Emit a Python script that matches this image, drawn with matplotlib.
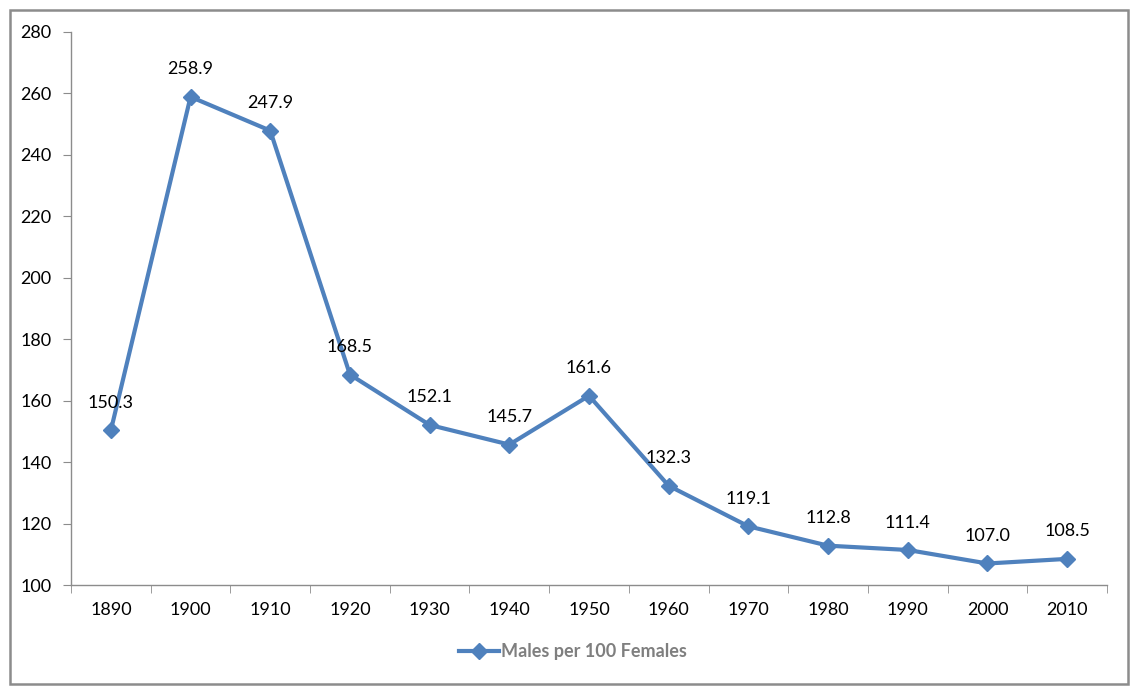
import matplotlib
matplotlib.use('Agg')
from matplotlib import pyplot as plt
from matplotlib.patches import Rectangle

years = ['1890', '1900', '1910', '1920', '1930', '1940', '1950',
         '1960', '1970', '1980', '1990', '2000', '2010']
ratio = [150.3, 258.9, 247.9, 168.5, 152.1, 145.7, 161.6,
         132.3, 119.1, 112.8, 111.4, 107.0, 108.5]
series_name = 'Males per 100 Females'

plt.rcParams['font.family'] = ['Lato', 'DejaVu Sans']

fig = plt.figure(figsize=(11.35, 6.91), dpi=100)
ax = fig.add_axes([71 / 1135, 106 / 691, 1036 / 1135, 553 / 691])

# outer chart-area border
fig.patches.append(Rectangle((10 / 1135, 7 / 691), 1118 / 1135, 674 / 691,
                             transform=fig.transFigure, fill=False,
                             edgecolor='#8c8c8c', linewidth=1.8))

x = list(range(len(years)))
blue = '#4F81BD'
ax.plot(x, ratio, color=blue, linewidth=3, marker='D', markersize=8,
        label=series_name)
for xi, v in zip(x, ratio):
    ax.annotate(f'{v:.1f}', (xi, v), xytext=(0, 14), textcoords='offset points',
                ha='center', va='bottom', fontsize=13, color='black')

ax.set_xlim(-0.5, len(years) - 0.5)
ax.set_ylim(100, 280)
ax.set_yticks(range(100, 281, 20))
ax.set_xticks(x)
ax.set_xticklabels(years)
ax.set_xticks([i - 0.5 for i in range(len(years) + 1)], minor=True)
ax.tick_params(axis='x', which='major', length=0, pad=12, labelsize=13)
ax.tick_params(axis='x', which='minor', length=6, color='#8c8c8c', direction='out')
ax.tick_params(axis='y', length=6, color='#8c8c8c', labelsize=13, pad=8)

for s in ['top', 'right']:
    ax.spines[s].set_visible(False)
for s in ['left', 'bottom']:
    ax.spines[s].set_color('#8c8c8c')
    ax.spines[s].set_linewidth(1.0)

leg = fig.legend(loc='center', bbox_to_anchor=(573 / 1135, 1 - 652 / 691),
                 frameon=False, fontsize=13, handlelength=2.2, handletextpad=0.1)
for t in leg.get_texts():
    t.set_color('#7f7f7f')
    t.set_fontweight('bold')

fig.savefig('out.png', dpi=100)
